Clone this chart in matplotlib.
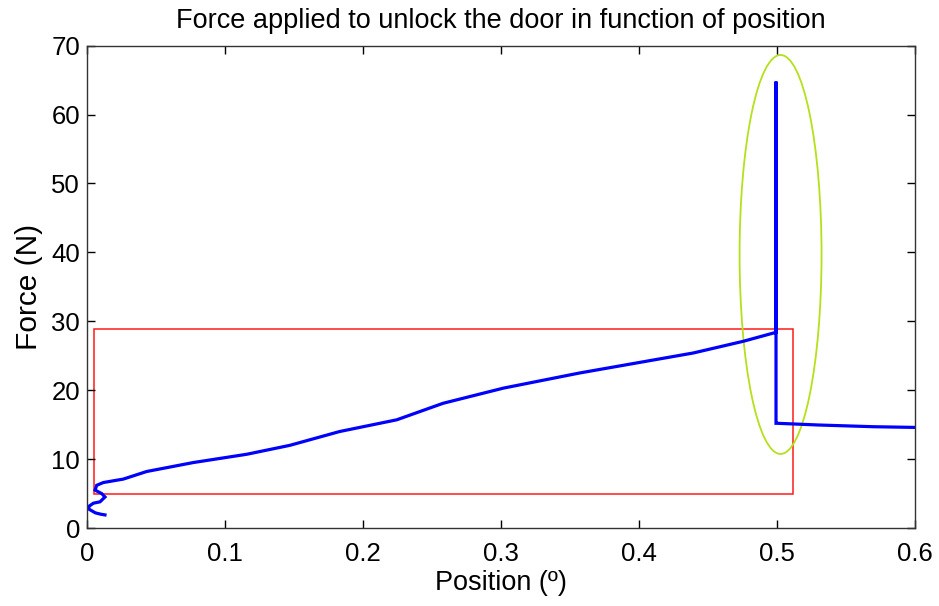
import matplotlib
matplotlib.use("Agg")
import matplotlib.pyplot as plt
from matplotlib.patches import Rectangle, Ellipse

plt.rcParams['font.family'] = ['Liberation Sans', 'DejaVu Sans']

# Measured force vs. position while unlocking the door
position = [0.013, 0.010, 0.006, 0.0017, 0.001, 0.0046, 0.0094, 0.013, 0.0106,
            0.0058, 0.007, 0.0118, 0.0263, 0.0432, 0.077, 0.1157, 0.147, 0.183,
            0.2244, 0.258, 0.3017, 0.357, 0.4393, 0.4756, 0.4993, 0.4993,
            0.4993, 0.5, 0.53, 0.57, 0.6]
force = [1.9, 2.0, 2.2, 2.7, 3.1, 3.6, 3.8, 4.5, 5.0,
         5.5, 6.2, 6.6, 7.1, 8.2, 9.5, 10.7, 12.0, 14.0,
         15.7, 18.1, 20.3, 22.5, 25.4, 27.1, 28.4, 64.8,
         15.2, 15.2, 14.95, 14.7, 14.6]

# Highlight regions: linear ramp (box) and the release spike (ellipse)
ramp_box = (0.0051, 4.9, 0.5119, 28.9)        # x0, y0, x1, y1
spike_ellipse = (0.5026, 39.7, 0.0594, 57.9)  # cx, cy, width, height

fig = plt.figure(figsize=(9.39, 6.06), dpi=100)
ax = fig.add_axes([0.0927, 0.1287, 0.9744 - 0.0927, 0.9246 - 0.1287])

ax.plot(position, force, color='#0000ff', linewidth=2.3, solid_joinstyle='miter')

x0, y0, x1, y1 = ramp_box
ax.add_patch(Rectangle((x0, y0), x1 - x0, y1 - y0, fill=False,
                       edgecolor='#ff1a1a', linewidth=1.1))
cx, cy, w, h = spike_ellipse
ax.add_patch(Ellipse((cx, cy), w, h, fill=False,
                     edgecolor='#b5e01c', linewidth=1.3))

ax.set_xlim(0, 0.6)
ax.set_ylim(0, 70)
ax.set_xticks([0, 0.1, 0.2, 0.3, 0.4, 0.5, 0.6])
ax.set_xticklabels(['0', '0.1', '0.2', '0.3', '0.4', '0.5', '0.6'])
ax.set_yticks(range(0, 71, 10))

ax.tick_params(direction='in', top=True, right=True, length=6, width=1,
               labelsize=18.5, colors='black')
ax.tick_params(axis='x', pad=10)
ax.tick_params(axis='y', pad=5)
for s in ax.spines.values():
    s.set_linewidth(1.0)
    s.set_color('#333333')

ax.set_title('Force applied to unlock the door in function of position',
             fontsize=19.5, pad=13)
ax.set_xlabel('Position (º)', fontsize=19.5, labelpad=3)
ax.set_ylabel('Force (N)', fontsize=21.5, labelpad=6)

fig.savefig('out.png', dpi=100)
